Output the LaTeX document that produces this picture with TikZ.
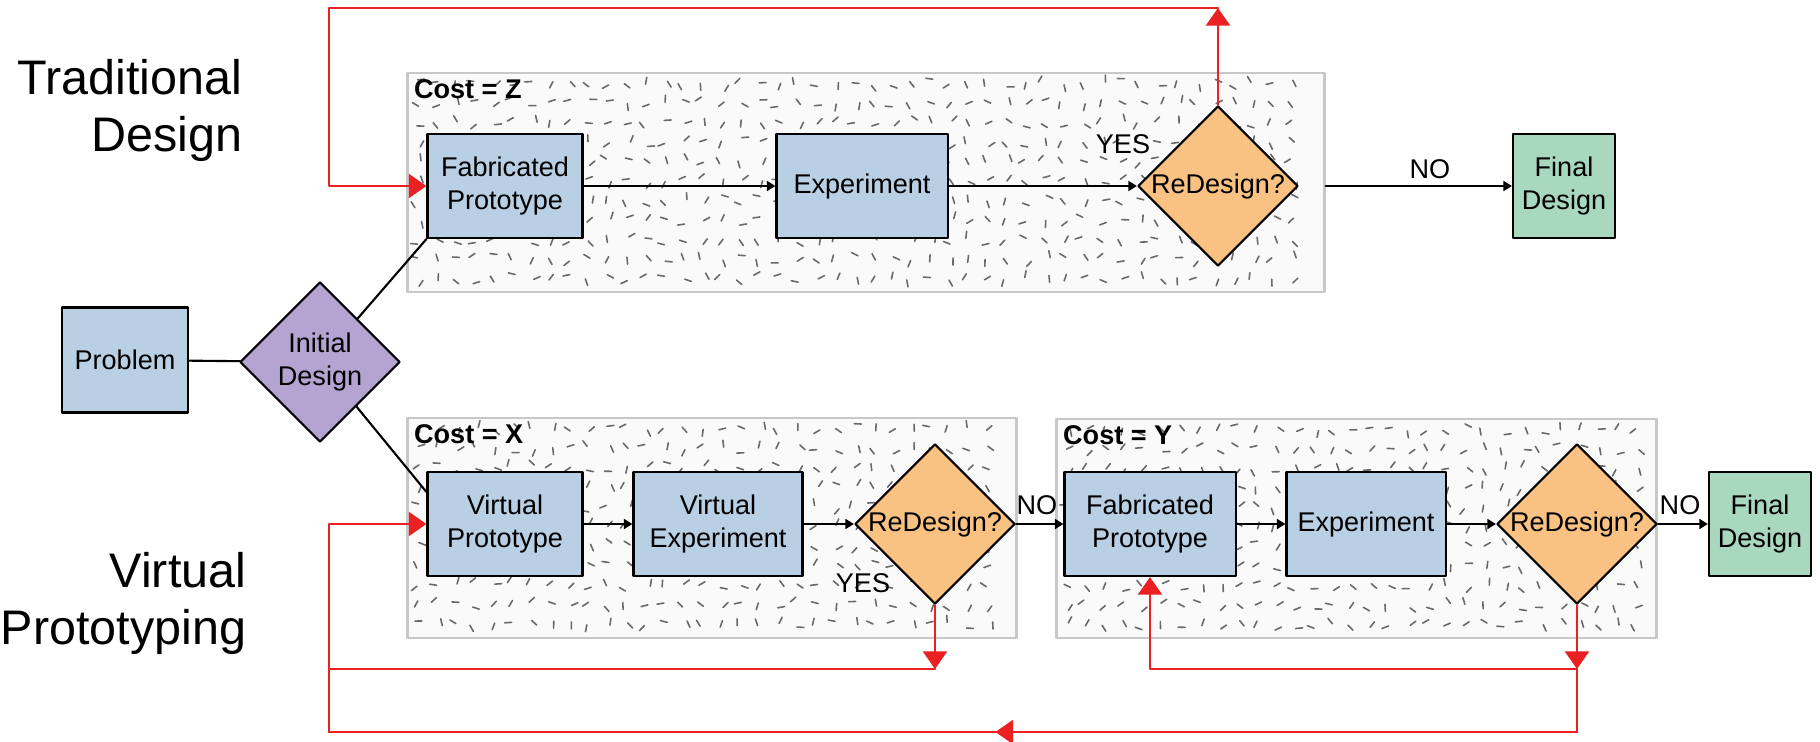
\documentclass[tikz,border=0pt]{standalone}
\usepackage{fontspec}
\setmainfont{Liberation Sans}
\usetikzlibrary{shapes.geometric,arrows.meta,decorations.markings}

\definecolor{procblue}{RGB}{184,207,228}
\definecolor{askorange}{RGB}{249,194,130}
\definecolor{initpurple}{RGB}{181,163,209}
\definecolor{donegreen}{RGB}{168,216,190}
\definecolor{loopred}{RGB}{234,32,34}
\definecolor{costfill}{RGB}{250,250,250}
\definecolor{costedge}{RGB}{200,200,200}
\definecolor{speckgray}{RGB}{105,105,105}

\tikzset{
  proc/.style={draw, line width=0.6pt, fill=procblue, align=center, inner sep=1pt, minimum height=1.04cm},
  decide/.style={draw, line width=0.6pt, diamond, aspect=1, fill=askorange, inner sep=0pt,
    minimum width=1.6cm, minimum height=1.6cm, align=center},
  final/.style={proc, fill=donegreen, minimum width=1.02cm},
  costbox/.style={draw=costedge, line width=0.8pt, fill=costfill, inner sep=0pt},
  costlbl/.style={anchor=north west, inner sep=2pt, font=\fontsize{7.7}{9.4}\selectfont\bfseries},
  side/.style={align=right, inner sep=0pt, font=\fontsize{13.8}{16.2}\selectfont},
  lbl/.style={inner sep=0pt},
  speck/.style={speckgray, line width=0.45pt},
  flow/.style={->, line width=0.6pt},
  plain/.style={line width=0.6pt},
  redline/.style={loopred, line width=0.7pt},
  redtip/.tip={Triangle[length=5pt,width=6.8pt]},
  midtip/.style={postaction={decorate}, decoration={markings, mark=at position 0.466 with {\arrow{redtip}}}}
}

% little dashes on a jittered grid inside a cost box: x1, y1, columns, rows
\newcommand{\speckle}[4]{%
  \foreach \i in {1,...,#3}{
    \foreach \j in {1,...,#4}{
      \pgfmathsetmacro{\sx}{#1+19*\i-9+rnd*10-5}
      \pgfmathsetmacro{\sy}{#2+19.5*\j-9+rnd*10-5}
      \pgfmathsetmacro{\sa}{rnd*180}
      \draw[speck] (\sx,\sy) ++(\sa:-3.5) -- ++(\sa:7);
    }
  }}

\begin{document}
\begin{tikzpicture}[x=0.01cm, y=-0.01cm, font=\fontsize{7.7}{9.4}\selectfont, line join=round, line cap=round,
  >={Triangle[length=2.4pt,width=2.8pt]}]
\def \rowA{186}
\def \rowB{524}
\useasboundingbox (0,0) rectangle (1820,742);
\pgfmathsetseed{4711}

% cost regions
\node[costbox, minimum width=9.16cm, minimum height=2.19cm] (costZ) at (866,182.5) {};
\node[costbox, minimum width=6.08cm, minimum height=2.20cm] (costX) at (712,528) {};
\node[costbox, minimum width=5.99cm, minimum height=2.19cm] (costY) at (1356.5,528.5) {};
\speckle{408}{73}{47}{11}
\speckle{408}{418}{31}{11}
\speckle{1057}{419}{31}{11}
\node[costlbl] (lblZ) at (costZ.north west) {Cost = Z};
\node[costlbl] (lblX) at (costX.north west) {Cost = X};
\node[costlbl] (lblY) at (costY.north west) {Cost = Y};

% side titles
\node[side, anchor=north east] (trad) at (243,59) {Traditional\\Design};
\node[side, anchor=north east] (virt) at (247,552) {Virtual\\Prototyping};

% start
\node[proc, minimum width=1.26cm, minimum height=1.05cm] (prob) at (125,360) {Problem};
\node[decide, fill=initpurple] (init) at (320,362) {Initial\\Design};

% traditional path
\node[proc, minimum width=1.55cm] (fabA) at (505,\rowA) {Fabricated\\Prototype};
\node[proc, minimum width=1.71cm] (expA) at (862,\rowA) {Experiment};
\node[decide] (rdA) at (1218,\rowA) {ReDesign?};
\node[final] (finA) at (1564,\rowA) {Final\\Design};

% virtual path
\node[proc, minimum width=1.55cm] (vp) at (505,\rowB) {Virtual\\Prototype};
\node[proc, minimum width=1.69cm] (ve) at (718,\rowB) {Virtual\\Experiment};
\node[decide] (rdB) at (935,\rowB) {ReDesign?};
\node[proc, minimum width=1.71cm] (fabB) at (1150,\rowB) {Fabricated\\Prototype};
\node[proc, minimum width=1.59cm] (expB) at (1366,\rowB) {Experiment};
\node[decide] (rdC) at (1577,\rowB) {ReDesign?};
\node[final] (finB) at (1760,\rowB) {Final\\Design};

% answers
\node[lbl] (yesA) at (1123,144) {YES};
\node[lbl] (noA) at (1430,169) {NO};
\node[lbl] (yesB) at (863,583) {YES};
\node[lbl] (noB) at (1037,505) {NO};
\node[lbl] (noC) at (1680,505) {NO};

% black connectors
\draw[plain] (prob) -- (init);
\draw[plain] (init) -- (fabA.south west);
\draw[plain] (init) -- ([yshift=-0.21cm]vp.north west);
\draw[flow] (fabA) -- (expA);
\draw[flow] (expA) -- (rdA);
\draw[flow] (costZ.east |- rdA) -- (finA);
\draw[flow] (vp) -- (ve);
\draw[flow] (ve) -- (rdB);
\draw[flow] (rdB) -- (fabB);
\draw[flow] (fabB) -- (expB);
\draw[flow] (expB) -- (rdC);
\draw[flow] (rdC) -- (finB);

% red redesign loops
\coordinate (topA) at (329,8);
\coordinate (loopB) at (329,669);
\coordinate (loopC) at (329,732);
\draw[redline, -redtip] (rdA.north) -- (rdA.north |- topA);
\draw[redline, -redtip] (rdA.north |- topA) -- (topA) |- (fabA.west);
\draw[redline, -redtip] (rdB.south) -- (rdB.south |- loopB);
\draw[redline, -redtip] (rdB.south |- loopB) -- (loopB) |- (vp.west);
\draw[redline, -redtip] (rdC.south) -- (rdC.south |- loopB);
\draw[redline, -redtip] (rdC.south |- loopB) -| (fabB.south);
\draw[redline] (rdC.south |- loopB) -- (rdC.south |- loopC);
\draw[redline, midtip] (rdC.south |- loopC) -- (loopC);
\draw[redline] (loopC) -- (loopB);
\end{tikzpicture}
\end{document}
